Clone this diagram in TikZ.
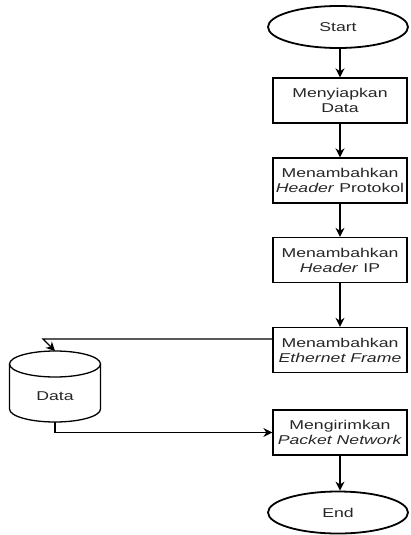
\documentclass[tikz,border=0pt]{standalone}
\usepackage{fontspec}
\setmainfont{Liberation Sans}[FakeStretch=1.38]
\usetikzlibrary{arrows.meta,shapes.geometric}
\begin{document}
\begin{tikzpicture}[x=1pt,y=-1pt,
  font=\fontsize{12.8}{15}\selectfont,
  txt/.style={text=black!85},
  procbox/.style={draw, line width=1.3pt, minimum width=134pt, minimum height=45pt, inner sep=0pt, align=center, txt},
  term/.style={draw, ellipse, line width=1.8pt, minimum width=140pt, minimum height=42pt, inner sep=0pt, txt},
  conn/.style={draw, line width=1.3pt, -{Stealth[length=9pt,width=9pt]}}
]
\useasboundingbox (0,0) rectangle (411,535);
\node[term] (start) at (338,27) {Start};
\node[procbox] (b1) at (340,100.5) {Menyiapkan\\Data};
\node[procbox] (b2) at (340,180.5) {Menambahkan\\\textit{Header} Protokol};
\node[procbox] (b3) at (340,260) {Menambahkan\\\textit{Header} IP};
\node[procbox] (b4) at (340,350) {Menambahkan\\\textit{Ethernet Frame}};
\node[procbox] (b5) at (340,432.5) {Mengirimkan\\\textit{Packet Network}};
\node[term] (end) at (338,512.5) {End};
% cylinder
\draw[line width=1.3pt] (9.5,364) -- (9.5,409) arc[start angle=180,end angle=0,x radius=45.5,y radius=13] -- (100.5,364);
\draw[line width=1.3pt] (55,364) ellipse[x radius=45.5,y radius=13];
\coordinate (dtop) at (55,351);
\coordinate (dbot) at (55,422);
\node[txt, inner sep=0pt] (data) at (55,396) {Data};
% connectors
\draw[conn] (start.south -| b1.north) -- (b1.north);
\draw[conn] (b1) -- (b2);
\draw[conn] (b2) -- (b3);
\draw[conn] (b3) -- (b4);
\draw[conn] (b5) -- (end.north -| b5.south);
\coordinate (k1) at (43,339);
\draw[conn] ([yshift=11pt]b4.west) -- (k1) -- (dtop);
\draw[conn] (dbot) |- (b5.west);
\end{tikzpicture}
\end{document}
